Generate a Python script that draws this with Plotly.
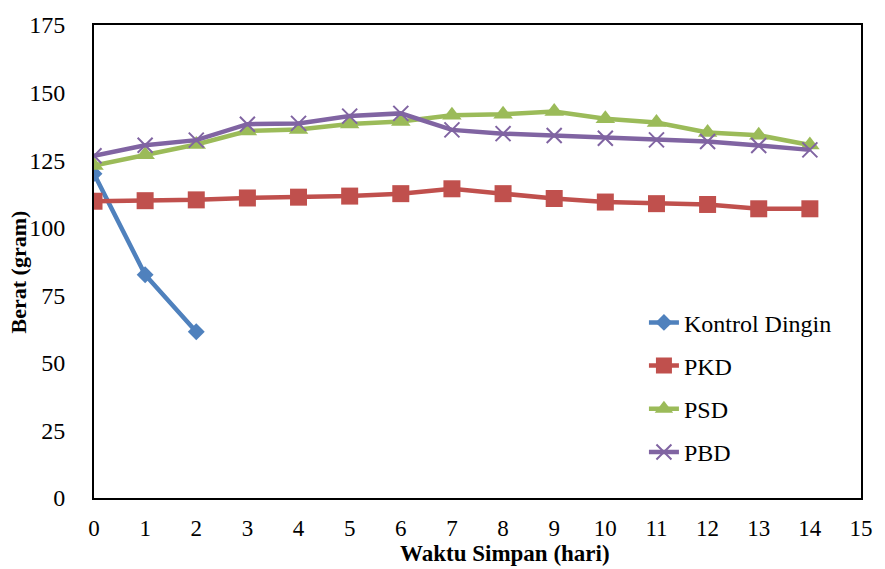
import plotly.graph_objects as go

days = list(range(15))
kontrol_x = [0, 1, 2]
kontrol = [120.0, 82.6, 61.5]
pkd = [109.8, 110.0, 110.3, 111.0, 111.3, 111.7, 112.6, 114.4, 112.6, 110.8, 109.5, 108.9, 108.6, 107.0, 107.0]
psd = [123.0, 127.0, 130.8, 135.8, 136.3, 138.4, 139.3, 141.6, 142.0, 143.0, 140.3, 138.9, 135.2, 134.2, 130.6]
pbd = [126.6, 130.5, 132.4, 138.3, 138.6, 141.3, 142.3, 136.2, 134.8, 134.1, 133.1, 132.5, 131.9, 130.4, 128.8]

x_title = "Waktu Simpan (hari)"
y_title = "Berat (gram)"

series = [
    ("Kontrol Dingin", kontrol_x, kontrol, "#4F81BD", "diamond", 13),
    ("PKD", days, pkd, "#C0504D", "square", 17),
    ("PSD", days, psd, "#9BBB59", "triangle-up", 17),
    ("PBD", days, pbd, "#8064A2", "x-thin-open", 15),
]

fig = go.Figure()
for i, (name, xs, ys, col, sym, sz) in enumerate(series):
    marker = dict(symbol=sym, size=sz, color=col)
    if sym == "x-thin-open":
        marker["line"] = dict(color=col, width=2)
    fig.add_trace(go.Scatter(
        x=xs, y=ys, name=name, mode="lines+markers",
        line=dict(color=col, width=4.5), marker=marker,
        legendgroup=f"g{i}",
    ))

font_family = "Liberation Serif, Times New Roman, serif"
fig.update_layout(
    width=885, height=569,
    margin=dict(l=94, r=19, t=20, b=71),
    paper_bgcolor="white", plot_bgcolor="white",
    font=dict(family=font_family, size=24, color="black"),
    showlegend=True,
    legend=dict(x=0.717, y=0.418, xanchor="left", yanchor="top",
                font=dict(family=font_family, size=24, color="black"),
                tracegroupgap=9, bgcolor="rgba(0,0,0,0)"),
    xaxis=dict(range=[0, 15], tickmode="linear", tick0=0, dtick=1,
               showgrid=False, zeroline=False, showline=True, linecolor="black",
               linewidth=2, mirror=True, ticks="", ticklabelstandoff=8,
               tickfont=dict(size=23)),
    yaxis=dict(range=[0, 175], tickmode="linear", tick0=0, dtick=25,
               showgrid=False, zeroline=False, showline=True, linecolor="black",
               linewidth=2, mirror=True, ticks="", ticklabelstandoff=22),
    annotations=[
        dict(text=f"<b>{x_title}</b>", xref="paper", yref="paper",
             x=0.536, y=-0.1485, xanchor="center", yanchor="bottom",
             showarrow=False, font=dict(size=23)),
        dict(text=f"<b>{y_title}</b>", xref="paper", yref="paper",
             x=-0.099, y=0.477, xanchor="center", yanchor="middle",
             textangle=-90, showarrow=False, font=dict(size=22)),
    ],
)

fig.write_html("out.html")
